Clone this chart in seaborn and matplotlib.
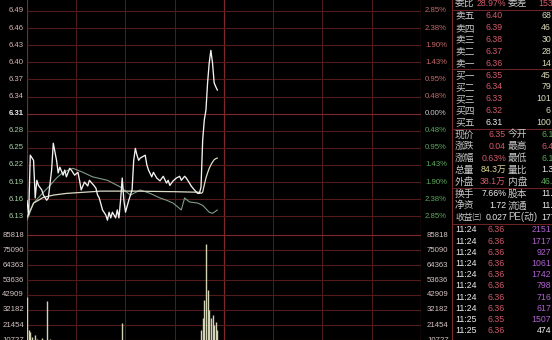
import matplotlib
matplotlib.use("Agg")
import matplotlib.pyplot as plt
import seaborn as sns
import pandas as pd

sns.set_theme(style="dark")
plt.rcParams['font.family'] = ['Liberation Sans', 'Noto Sans CJK SC', 'DejaVu Sans']

# ---------------- data ----------------
price_ticks = [6.49, 6.46, 6.43, 6.40, 6.37, 6.34, 6.31, 6.28, 6.25, 6.22, 6.19, 6.16, 6.13]
price_labels = ['6.49', '6.46', '6.43', '6.40', '6.37', '6.34', '6.31',
                '6.28', '6.25', '6.22', '6.19', '6.16', '6.13']
pct_labels = ['2.85%', '2.38%', '1.90%', '1.43%', '0.95%', '0.48%', '0.00%',
              '0.48%', '0.95%', '1.43%', '1.90%', '2.38%', '2.85%']
vol_ticks = [85818, 75090, 64363, 53636, 42909, 32182, 21454, 10727]
vol_labels = ['85818', '75090', '64363', '53636', '42909', '32182', '21454', '10727']

price_min = [0, 1, 2, 4, 5, 6, 7, 9, 10, 12, 13, 15, 16, 18, 19, 20, 22, 23, 24, 26, 27, 29,
             31, 32, 33, 35, 37, 38, 41, 42, 43, 44, 46, 48, 49, 50, 51, 52, 54, 55, 56, 57,
             58, 59, 60, 62, 63, 64, 65, 66, 67, 68, 69, 72, 73, 74, 76, 77, 79, 81, 83, 85,
             86, 87, 89, 91, 93, 94, 96, 97, 99, 100, 102, 104, 105, 106, 107, 108, 109, 110,
             111, 112, 113, 114, 115, 116]
price_val = [6.158, 6.132, 6.237, 6.228, 6.162, 6.193, 6.184, 6.176, 6.167, 6.158, 6.162,
             6.211, 6.258, 6.228, 6.206, 6.216, 6.202, 6.211, 6.199, 6.214, 6.211, 6.202,
             6.207, 6.193, 6.176, 6.190, 6.183, 6.193, 6.183, 6.179, 6.167, 6.162, 6.141,
             6.132, 6.123, 6.137, 6.127, 6.137, 6.127, 6.141, 6.127, 6.158, 6.197, 6.158,
             6.137, 6.158, 6.167, 6.176, 6.228, 6.249, 6.237, 6.228, 6.232, 6.237, 6.220,
             6.211, 6.199, 6.207, 6.197, 6.192, 6.200, 6.188, 6.193, 6.184, 6.192, 6.197,
             6.200, 6.193, 6.200, 6.197, 6.188, 6.183, 6.176, 6.170, 6.170, 6.181, 6.263,
             6.299, 6.316, 6.364, 6.399, 6.421, 6.399, 6.364, 6.357, 6.351]

avg_min = [0, 4, 10, 16, 24, 45, 65, 90, 105, 106, 107, 108, 109, 110, 111, 112, 113, 114, 115, 116]
avg_val = [6.128, 6.153, 6.163, 6.167, 6.170, 6.174, 6.174, 6.173, 6.172, 6.170, 6.172,
           6.185, 6.197, 6.206, 6.214, 6.220, 6.225, 6.229, 6.231, 6.232]

lead_min = [0, 4, 10, 14, 18, 22, 28, 34, 40, 49, 57, 63, 69, 75, 81, 85, 89, 94, 96, 99,
            104, 107, 111, 113, 116]
lead_val = [6.123, 6.153, 6.172, 6.184, 6.197, 6.207, 6.214, 6.207, 6.199, 6.193, 6.181,
            6.167, 6.176, 6.170, 6.162, 6.158, 6.153, 6.141, 6.162, 6.155, 6.153, 6.149,
            6.137, 6.135, 6.141]

vol_min = [0, 1, 2, 3, 5, 6, 9, 12, 14, 58, 106, 107, 108, 109, 110, 111, 112, 113, 114, 115, 116]
vol_val = [41480, 17880, 16450, 12900, 14300, 11500, 12200, 38620, 11400, 22880, 17880,
           26460, 39330, 79380, 46480, 32180, 26460, 28600, 21450, 23600, 17880]

order_labels = ['卖五', '卖四', '卖三', '卖二', '卖一', '买一', '买二', '买三', '买四', '买五']
order_prices = ['6.40', '6.39', '6.38', '6.37', '6.36', '6.35', '6.34', '6.33', '6.32', '6.31']
order_vols = ['68', '46', '30', '28', '14', '45', '79', '101', '6', '100']

info_l1 = ['现价', '涨跌', '涨幅', '总量', '外盘', '换手', '净资', '收益㈢']
info_v1 = ['6.35', '0.04', '0.63%', '84.3万', '38.1万', '7.66%', '1.72', '0.027']
info_l2 = ['今开', '最高', '最低', '量比', '内盘', '股本', '流通', 'PE(动)']
info_v2 = ['6.15', '6.42', '6.12', '1.35', '46.0万', '11.4亿', '11.0亿', '177.1']

tick_times = ['11:24'] * 8 + ['11:25'] * 2
tick_prices = ['6.36'] * 8 + ['6.35', '6.36']
tick_vols = ['2151', '1717', '927', '1061', '1742', '798', '716', '617', '1507', '474']

# ---------------- styling ----------------
W, H = 552, 340
BG = '#000000'
GRID = '#521c1c'
BORDER = '#7e2828'
RED = '#d45a6a'
GREEN = '#5aa85a'
GRAY = '#c8c8c8'
WHITE = '#ececec'
YEL = '#e0d898'
PURPLE = '#b060d0'

fig = plt.figure(figsize=(W / 100, H / 100), dpi=100, facecolor=BG)


def fx(x):
    return x / W


def fy(y):
    return 1 - y / H


LEFT, RIGHT = 27, 421
pp = 0.03 / 17.1
p_top = 6.49 + 11 * pp
p_bot = 6.49 - (228 - 11) * pp

ax_p = fig.add_axes([fx(LEFT), fy(228), (RIGHT - LEFT) / W, 228 / H])
ax_v = fig.add_axes([fx(LEFT), fy(355), (RIGHT - LEFT) / W, (355 - 228) / H])
vmax_px = 85818 / 120.0
for ax in (ax_p, ax_v):
    ax.set_facecolor(BG)
    ax.set_xlim(0, 240)
    ax.set_xticks([])
    ax.set_yticks([])
    for s in ax.spines.values():
        s.set_visible(False)
    for m in range(0, 241, 30):
        major = m in (0, 120, 240)
        ax.axvline(m, color=BORDER if major else GRID, lw=0.9 if major else 0.7, zorder=0)
ax_p.set_ylim(p_bot, p_top)
ax_v.set_ylim(0, (355 - 228) * vmax_px)

for p in price_ticks:
    ax_p.axhline(p, color=GRID if p != 6.31 else BORDER, lw=0.8, zorder=0)
for i, v in enumerate(vol_ticks):
    ax_v.axhline(v, color=BORDER if i == 0 else GRID, lw=0.8, zorder=0)

df_p = pd.DataFrame({'m': price_min, 'p': price_val})
df_a = pd.DataFrame({'m': avg_min, 'p': avg_val})
df_l = pd.DataFrame({'m': lead_min, 'p': lead_val})
sns.lineplot(data=df_l, x='m', y='p', ax=ax_p, color='#7f9c86', lw=0.8, estimator=None, zorder=3)
sns.lineplot(data=df_a, x='m', y='p', ax=ax_p, color='#dcdcc6', lw=0.9, estimator=None, zorder=4)
sns.lineplot(data=df_p, x='m', y='p', ax=ax_p, color='#f2f2f2', lw=0.95, estimator=None, zorder=5)
ax_p.set_xlabel('')
ax_p.set_ylabel('')
ax_p.set_xlim(0, 240)
ax_p.set_ylim(p_bot, p_top)

ax_v.vlines(vol_min, 0, vol_val, color='#d2d2b4', lw=1.0, zorder=3)

# axis labels
ty = ax_p.get_yaxis_transform()
for p, lab, pc in zip(price_ticks, price_labels, pct_labels):
    if p > 6.31:
        c, c2 = '#dcb4b4', '#c46a6a'
    elif p < 6.31:
        c, c2 = '#a6d0a6', GREEN
    else:
        c, c2 = WHITE, GRAY
    ax_p.text(-3 / 394, p, lab, transform=ty, ha='right', va='center', fontsize=5.6,
              color=c, fontweight='bold' if p == 6.31 else 'normal')
    ax_p.text(1 + 4 / 394, p, pc, transform=ty, ha='left', va='center', fontsize=5.6, color=c2)
tv = ax_v.get_yaxis_transform()
for v, lab in zip(vol_ticks, vol_labels):
    ax_v.text(-3 / 394, v, lab, transform=tv, ha='right', va='center', fontsize=5.6, color='#d6c4c4')
    ax_v.text(1 + 6 / 394, v, lab, transform=tv, ha='left', va='center', fontsize=5.6, color='#d6c4c4')

# table panel separators
fig.add_artist(plt.Line2D([fx(452), fx(452)], [0, 1], color=BORDER, lw=0.8))
for y in (9.5, 69, 128.5, 188, 223.5):
    fig.add_artist(plt.Line2D([fx(452), 1], [fy(y), fy(y)], color='#6a2222', lw=0.8))

CJ = 7.0
NUM = 6.3


def txt(x, y, s, c, ha='left', size=NUM, **kw):
    fig.text(fx(x), fy(y), s, color=c, ha=ha, va='center', fontsize=size, **kw)


# header row
txt(455, 3, '委比', GRAY, size=CJ)
txt(506, 3, '28.97%', RED, ha='right')
txt(508, 3, '委差', GRAY, size=CJ)
txt(538, 3, '153', RED)

row_y = [4 + 11.85 * i for i in range(19)]
for i, (lab, pr, vo) in enumerate(zip(order_labels, order_prices, order_vols)):
    y = row_y[i + 1]
    txt(455, y, lab, GRAY, size=CJ)
    txt(494, y, pr, WHITE if pr == '6.31' else RED, ha='center')
    txt(551, y, vo, '#d8d8b8', ha='right')

v1_col = [RED, RED, RED, YEL, RED, WHITE, WHITE, WHITE]
v2_col = [GREEN, RED, GREEN, WHITE, GREEN, WHITE, WHITE, WHITE]
for i, (l1, v1, l2, v2) in enumerate(zip(info_l1, info_v1, info_l2, info_v2)):
    y = row_y[i + 11]
    txt(455, y, l1, GRAY, size=CJ if len(l1) == 2 else 6.3)
    txt(507 if len(l1) > 2 else 506, y, v1, v1_col[i], ha='right')
    txt(508, y, l2, GRAY, size=CJ)
    txt(541, y, v2, v2_col[i])

for j, (t, pr, vo) in enumerate(zip(tick_times, tick_prices, tick_vols)):
    y = 230 + 11.2 * j
    txt(455, y, t, WHITE)
    txt(496, y, pr, RED, ha='center')
    txt(551, y, vo, PURPLE if j < 9 else WHITE, ha='right')

fig.savefig('out.png', dpi=100, facecolor=BG)
